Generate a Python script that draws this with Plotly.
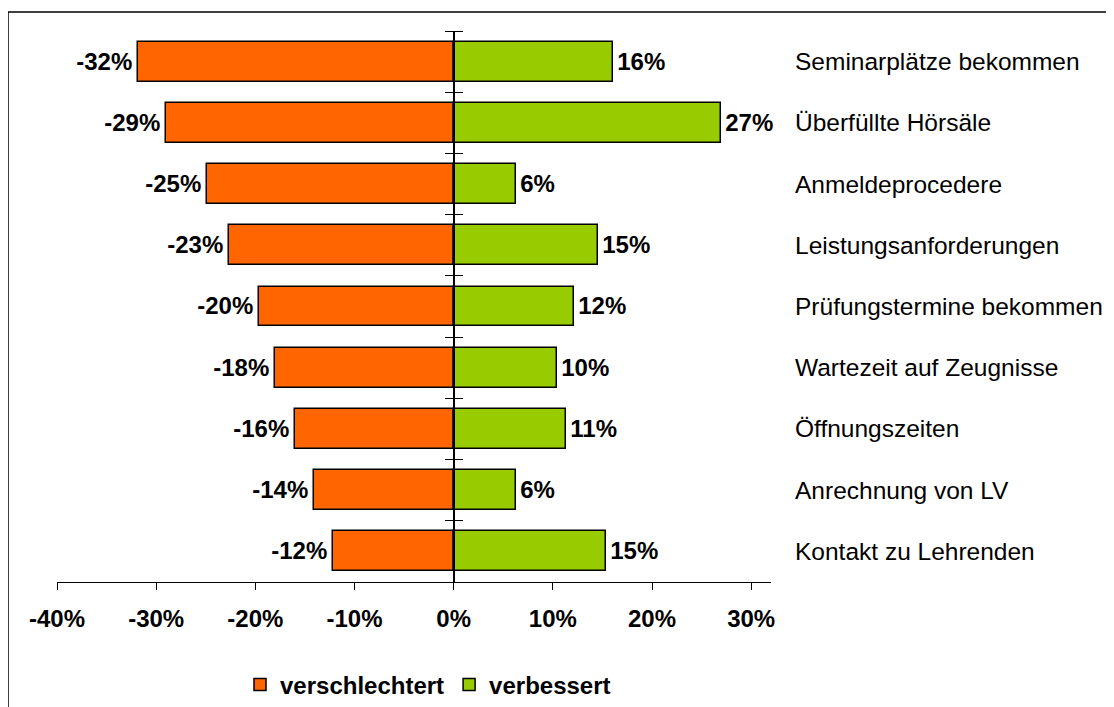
import plotly.graph_objects as go

categories = ["Seminarplätze bekommen", "Überfüllte Hörsäle", "Anmeldeprocedere",
              "Leistungsanforderungen", "Prüfungstermine bekommen", "Wartezeit auf Zeugnisse",
              "Öffnungszeiten", "Anrechnung von LV", "Kontakt zu Lehrenden"]
verschlechtert = [-31.8, -29.0, -24.9, -22.7, -19.6, -18.0, -16.0, -14.1, -12.2]
verbessert = [16.1, 27.0, 6.3, 14.6, 12.1, 10.4, 11.3, 6.3, 15.4]
tick_values = [-40, -30, -20, -10, 0, 10, 20, 30]
tick_labels = ["-40%", "-30%", "-20%", "-10%", "0%", "10%", "20%", "30%"]

W, H = 1114, 707
L, R, T, B = 49, 351, 23, 133
pw, ph = W - L - R, H - T - B
FONT = "Liberation Sans, Arial, sans-serif"
x_range = [-40, 32]
zero_pos = (0 - x_range[0]) / (x_range[1] - x_range[0])

idx = list(range(len(categories)))
boundaries = [i - 0.5 for i in range(len(categories) + 1)]
HS = "\u200a"

fig = go.Figure()
fig.add_trace(go.Bar(
    name="<b>verschlechtert</b>", y=idx, x=verschlechtert, orientation="h", width=0.65,
    marker=dict(color="#FF6600", line=dict(color="black", width=1.5)),
    texttemplate="<b>%{x:.0f}%</b>" + HS, textposition="outside", cliponaxis=False,
    textfont=dict(family=FONT, size=24, color="black"),
))
fig.add_trace(go.Bar(
    name="<b>verbessert</b>", y=idx, x=verbessert, orientation="h", width=0.65,
    marker=dict(color="#99CC00", line=dict(color="black", width=1.5)),
    texttemplate=HS + "<b>%{x:.0f}%</b>", textposition="outside", cliponaxis=False,
    textfont=dict(family=FONT, size=24, color="black"),
))
# invisible trace to keep the right-hand tick axis drawn
fig.add_trace(go.Scatter(x=[None], y=[None], yaxis="y2", showlegend=False, hoverinfo="skip"))

for i, c in enumerate(categories):
    fig.add_annotation(x=(785 - L) / pw, xref="paper", y=i, yref="y", text=c,
                       showarrow=False, xanchor="left", yanchor="middle",
                       font=dict(family=FONT, size=24.5, color="black"))

# outer frame
fig.add_shape(type="rect", xref="paper", yref="paper",
              x0=(0 - L) / pw, x1=(W + 30 - L) / pw,
              y0=(H - B - 4) / ph, y1=-(H + 30 - (H - B)) / ph,
              line=dict(color="black", width=1.5), layer="below")

yax = dict(range=[len(categories) - 0.5, -0.5], tickvals=boundaries, showticklabels=False,
           ticks="outside", ticklen=8, tickcolor="black", tickwidth=1,
           showgrid=False, zeroline=False, anchor="free", position=zero_pos,
           showline=True, linecolor="black", linewidth=2)
yax2 = dict(yax, overlaying="y", side="right", showline=False)

fig.update_layout(
    width=W, height=H, margin=dict(l=L, r=R, t=T, b=B, autoexpand=False),
    paper_bgcolor="white", plot_bgcolor="white",
    barmode="overlay", bargap=0,
    font=dict(family=FONT, size=24, color="black"),
    xaxis=dict(range=x_range, tickvals=tick_values, ticktext=["<b>%s</b>" % t for t in tick_labels],
               ticks="outside", ticklen=7, tickcolor="black", showline=True, linecolor="black",
               linewidth=1, showgrid=False, zeroline=False, ticklabelstandoff=8,
               tickfont=dict(family=FONT, size=24, color="black")),
    yaxis=yax, yaxis2=yax2,
    legend=dict(orientation="h", x=(420 - L) / pw, xanchor="center", y=-(677 - (H - B)) / ph,
                yanchor="middle", font=dict(family=FONT, size=24, color="black"),
                itemclick=False, traceorder="normal"),
    showlegend=True,
)

fig.write_html("out.html")
